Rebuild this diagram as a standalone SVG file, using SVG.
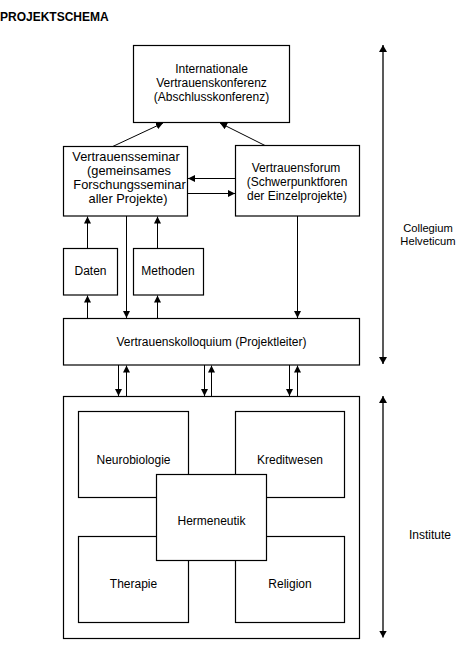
<svg xmlns="http://www.w3.org/2000/svg" width="460" height="668" viewBox="0 0 460 668">
<defs>
<marker id="ah" markerUnits="userSpaceOnUse" markerWidth="8" markerHeight="7" refX="7" refY="3.5" orient="auto">
<path d="M0,0 L7,3.5 L0,7 z" fill="#000"/>
</marker>
<marker id="ah2" markerUnits="userSpaceOnUse" markerWidth="8" markerHeight="8" refX="7" refY="4" orient="auto-start-reverse">
<path d="M0,0 L7,4 L0,8 z" fill="#000"/>
</marker>
<style>
text{font-family:"Liberation Sans",Arial,sans-serif;font-size:12px;fill:#000}
.t{text-anchor:middle}
.b{font-size:12.8px}
.r{font-size:11.2px}
rect{fill:#fff;stroke:#000;stroke-width:1.2}
.c line{stroke:#000;stroke-width:1;marker-end:url(#ah)}
.s line{stroke:#595959;stroke-width:2;marker-start:url(#ah2);marker-end:url(#ah2)}
</style>
</defs>
<rect x="0" y="0" width="460" height="668" style="fill:#fff;stroke:none"/>
<text x="0" y="20.5" style="font-weight:bold">PROJEKTSCHEMA</text>

<g class="c" id="connectors">
<line x1="112.7" y1="146.5" x2="163" y2="123"/>
<line x1="265" y1="145.5" x2="220" y2="123"/>
<line x1="235.5" y1="178.5" x2="188" y2="178.5"/>
<line x1="187.5" y1="193.5" x2="235" y2="193.5"/>
<line x1="87.5" y1="248.5" x2="87.5" y2="216.5"/>
<line x1="87.5" y1="318.5" x2="87.5" y2="295.5"/>
<line x1="157.5" y1="248.5" x2="157.5" y2="216.5"/>
<line x1="157.5" y1="318.5" x2="157.5" y2="295.5"/>
<line x1="126.5" y1="216" x2="126.5" y2="318"/>
<line x1="297.5" y1="216" x2="297.5" y2="318"/>
<line x1="118.5" y1="365" x2="118.5" y2="396"/>
<line x1="126.5" y1="396.5" x2="126.5" y2="365.5"/>
<line x1="204.5" y1="365" x2="204.5" y2="396"/>
<line x1="211.5" y1="396.5" x2="211.5" y2="365.5"/>
<line x1="289.5" y1="365" x2="289.5" y2="396"/>
<line x1="297.5" y1="396.5" x2="297.5" y2="365.5"/>
</g>

<g id="konferenz">
<rect x="133.5" y="45.5" width="156" height="77"/>
<text class="t" x="211.5" y="73">Internationale</text>
<text class="t" x="211.5" y="87">Vertrauenskonferenz</text>
<text class="t" x="211.5" y="101">(Abschlusskonferenz)</text>
</g>
<g id="seminar">
<rect x="63.5" y="146.5" width="124" height="69.5"/>
<text class="t b" x="126" y="161">Vertrauensseminar</text>
<text class="t b" x="129" y="175">(gemeinsames</text>
<text class="t b" x="129.5" y="189">Forschungsseminar</text>
<text class="t b" x="128" y="203">aller Projekte)</text>
</g>
<g id="forum">
<rect x="235.5" y="145.5" width="124" height="70.5"/>
<text class="t" x="296" y="172">Vertrauensforum</text>
<text class="t" x="297" y="186">(Schwerpunktforen</text>
<text class="t" x="297" y="200">der Einzelprojekte)</text>
</g>
<g id="daten">
<rect x="63.5" y="248.5" width="54" height="46.5"/>
<text class="t" x="90.5" y="275">Daten</text>
</g>
<g id="methoden">
<rect x="133.5" y="248.5" width="70" height="46.5"/>
<text class="t" x="168" y="274.5">Methoden</text>
</g>
<g id="kolloquium">
<rect x="63.5" y="318.5" width="296" height="46.5"/>
<text class="t" x="211.5" y="346">Vertrauenskolloquium (Projektleiter)</text>
</g>
<g id="institute">
<rect x="63.5" y="396.5" width="296" height="242"/>
</g>
<g id="neurobiologie">
<rect x="78.5" y="411.5" width="110" height="86"/>
<text class="t" x="133.5" y="463.5">Neurobiologie</text>
</g>
<g id="kreditwesen">
<rect x="235.5" y="411.5" width="109" height="86"/>
<text class="t" x="290" y="463.5">Kreditwesen</text>
</g>
<g id="therapie">
<rect x="78.5" y="536.5" width="110" height="86"/>
<text class="t" x="133.5" y="588">Therapie</text>
</g>
<g id="religion">
<rect x="235.5" y="536.5" width="109" height="86"/>
<text class="t" x="290" y="588">Religion</text>
</g>
<g id="hermeneutik">
<rect x="156.5" y="474.5" width="110" height="86"/>
<text class="t" x="211.5" y="525">Hermeneutik</text>
</g>

<g class="s" id="scale">
<line x1="383" y1="45" x2="383" y2="364"/>
<line x1="383" y1="396" x2="383" y2="637.5"/>
</g>
<g id="collegium">
<text class="t r" x="428" y="231.5">Collegium</text>
<text class="t r" x="428" y="244.5">Helveticum</text>
</g>
<g id="institute-label">
<text class="t" x="430" y="538.5">Institute</text>
</g>
</svg>
